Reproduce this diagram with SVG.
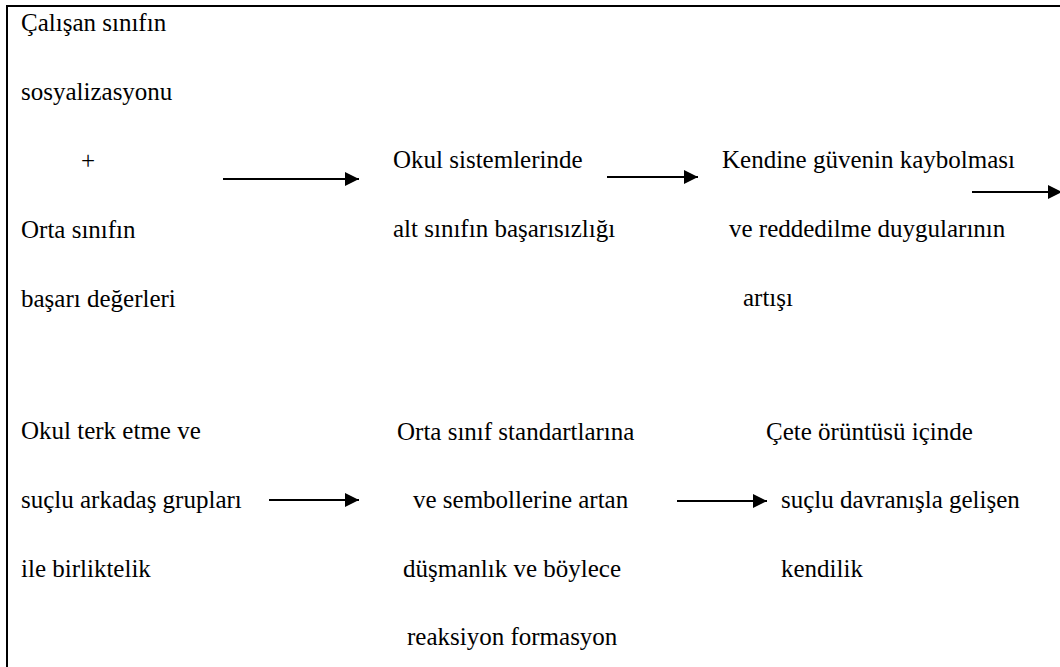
<svg xmlns="http://www.w3.org/2000/svg" width="1060" height="667" viewBox="0 0 1060 667">
<style>
.t{font-family:'Liberation Serif','Times New Roman',serif;font-size:25px;fill:#000}
.c{stroke:#000;stroke-width:2;fill:none}
</style>
<defs>
<marker id="ah" markerUnits="userSpaceOnUse" markerWidth="14" markerHeight="14" refX="14" refY="7" orient="auto">
<path d="M0,0 L14,7 L0,14 z" fill="#000"/>
</marker>
</defs>
<rect width="1060" height="667" fill="#fff"/>
<g id="frame">
<line x1="6" y1="6" x2="1060" y2="6" class="c"/>
<line x1="7" y1="5" x2="7" y2="667" class="c"/>
</g>
<g class="t">
<g id="n1">
<text x="21" y="31">Çalışan sınıfın</text>
<text x="21" y="100">sosyalizasyonu</text>
<text x="81" y="169">+</text>
<text x="21" y="238">Orta sınıfın</text>
<text x="21" y="307">başarı değerleri</text>
</g>
<g id="n2">
<text x="393" y="168">Okul sistemlerinde</text>
<text x="393" y="237">alt sınıfın başarısızlığı</text>
</g>
<g id="n3">
<text x="722" y="168">Kendine güvenin kaybolması</text>
<text x="729" y="237">ve reddedilme duygularının</text>
<text x="743" y="306">artışı</text>
</g>
<g id="n4">
<text x="21" y="439">Okul terk etme ve</text>
<text x="21" y="508">suçlu arkadaş grupları</text>
<text x="21" y="577">ile birliktelik</text>
</g>
<g id="n5">
<text x="397" y="440">Orta sınıf standartlarına</text>
<text x="413" y="508">ve sembollerine artan</text>
<text x="403" y="577">düşmanlık ve böylece</text>
<text x="407" y="645">reaksiyon formasyon</text>
</g>
<g id="n6">
<text x="766" y="440">Çete örüntüsü içinde</text>
<text x="781" y="508">suçlu davranışla gelişen</text>
<text x="781" y="577">kendilik</text>
</g>
</g>
<g id="connectors">
<line x1="223" y1="179" x2="359" y2="179" class="c" marker-end="url(#ah)"/>
<line x1="607" y1="177" x2="698" y2="177" class="c" marker-end="url(#ah)"/>
<line x1="972" y1="192" x2="1062" y2="192" class="c" marker-end="url(#ah)"/>
<line x1="269" y1="500" x2="359" y2="500" class="c" marker-end="url(#ah)"/>
<line x1="677" y1="501" x2="767" y2="501" class="c" marker-end="url(#ah)"/>
</g>
</svg>
